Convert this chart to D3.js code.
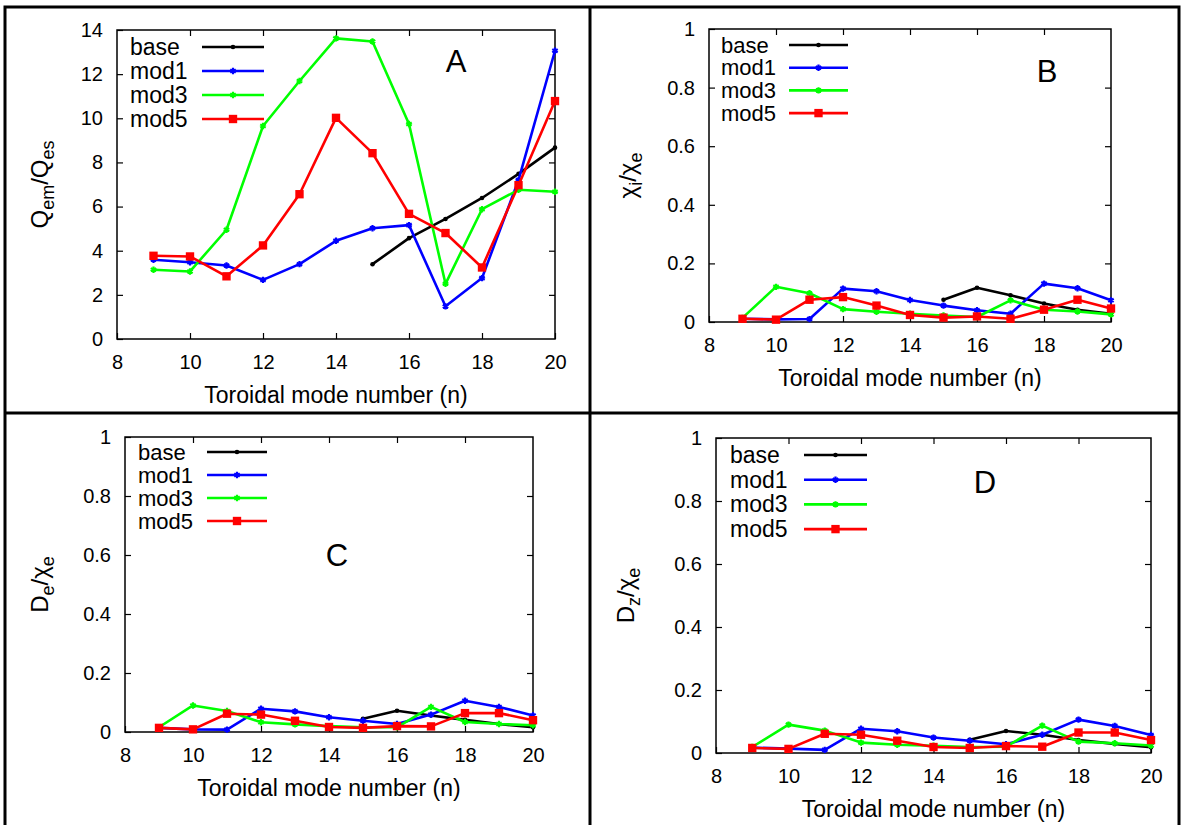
<!DOCTYPE html>
<html>
<head>
<meta charset="utf-8">
<script src="https://cdn.jsdelivr.net/npm/d3@7"></script>
<style>
body { margin: 0; background: white; }
text { font-family: "Liberation Sans", Arial, sans-serif; fill: black; }
</style>
</head>
<body>
<svg width="1182" height="825"></svg>
<script>
// toroidal mode numbers
const nAll = [9, 10, 11, 12, 13, 14, 15, 16, 17, 18, 19, 20];
const nBase = [15, 16, 17, 18, 19, 20];
const nTicks = [8, 10, 12, 14, 16, 18, 20];
const qTicks = [0, 2, 4, 6, 8, 10, 12, 14];
const ratioTicks = [0, 0.2, 0.4, 0.6, 0.8, 1];
const seriesNames = ["base", "mod1", "mod3", "mod5"];
const seriesColors = ["#000000", "#0000ff", "#00ff00", "#ff0000"];

// A: Qem/Qes
const qBase = [3.39, 4.57, 5.44, 6.39, 7.48, 8.67];
const qMod1 = [3.59, 3.48, 3.33, 2.68, 3.39, 4.45, 5.02, 5.16, 1.48, 2.76, 7.2, 13.06];
const qMod3 = [3.14, 3.06, 4.95, 9.65, 11.69, 13.62, 13.48, 9.74, 2.5, 5.88, 6.76, 6.67];
const qMod5 = [3.77, 3.74, 2.84, 4.24, 6.56, 10.02, 8.42, 5.67, 4.8, 3.24, 6.97, 10.78];

// B: chi_i/chi_e
const chiBase = [0.076, 0.117, 0.091, 0.063, 0.042, 0.028];
const chiMod1 = [0.011, 0.009, 0.010, 0.114, 0.105, 0.075, 0.056, 0.040, 0.028, 0.131, 0.115, 0.074];
const chiMod3 = [0.014, 0.120, 0.098, 0.044, 0.035, 0.028, 0.022, 0.017, 0.074, 0.042, 0.036, 0.026];
const chiMod5 = [0.011, 0.008, 0.076, 0.085, 0.056, 0.024, 0.015, 0.019, 0.011, 0.042, 0.076, 0.046];

// C: De/chi_e
const deBase = [0.045, 0.072, 0.056, 0.041, 0.027, 0.016];
const deMod1 = [0.014, 0.009, 0.008, 0.079, 0.070, 0.050, 0.038, 0.027, 0.059, 0.106, 0.085, 0.056];
const deMod3 = [0.016, 0.090, 0.071, 0.033, 0.026, 0.020, 0.016, 0.016, 0.085, 0.034, 0.027, 0.023];
const deMod5 = [0.014, 0.009, 0.062, 0.059, 0.038, 0.017, 0.014, 0.020, 0.019, 0.064, 0.064, 0.040];

// D: Dz/chi_e
const dzBase = [0.042, 0.070, 0.058, 0.041, 0.029, 0.018];
const dzMod1 = [0.017, 0.014, 0.010, 0.077, 0.069, 0.049, 0.039, 0.028, 0.058, 0.106, 0.086, 0.057];
const dzMod3 = [0.019, 0.090, 0.071, 0.033, 0.026, 0.023, 0.019, 0.020, 0.087, 0.036, 0.031, 0.024];
const dzMod5 = [0.016, 0.013, 0.061, 0.058, 0.039, 0.019, 0.016, 0.022, 0.020, 0.065, 0.065, 0.041];

const svg = d3.select("svg");

// panel frames
svg.append("rect").attr("x", 5).attr("y", 7).attr("width", 1174).attr("height", 830)
  .attr("fill", "none").attr("stroke", "black").attr("stroke-width", 3);
svg.append("line").attr("x1", 590).attr("x2", 590).attr("y1", 7).attr("y2", 830)
  .attr("stroke", "black").attr("stroke-width", 3);
svg.append("line").attr("x1", 5).attr("x2", 1179).attr("y1", 413).attr("y2", 413)
  .attr("stroke", "black").attr("stroke-width", 3);

const panels = [
  { series: [qBase, qMod1, qMod3, qMod5], ticks: qTicks, fmt: d3.format("d"),
    left: 117, right: 555, top: 30, bottom: 339, ylab: ["Q", "em", "/Q", "es"], ylabX: -77,
    letter: "A", letterX: 456, letterY: 72,
    leg: { x: 13, y: 17, dy: 24, l0: 85, l1: 147, fs: 23 } },
  { series: [chiBase, chiMod1, chiMod3, chiMod5], ticks: ratioTicks, fmt: d3.format("~g"),
    left: 709, right: 1111, top: 29, bottom: 322, ylab: ["\u03c7", "i", "/\u03c7", "e"], ylabX: -81,
    letter: "B", letterX: 1047, letterY: 82,
    leg: { x: 12, y: 16, dy: 22.7, l0: 80, l1: 139, fs: 22 } },
  { series: [deBase, deMod1, deMod3, deMod5], ticks: ratioTicks, fmt: d3.format("~g"),
    left: 125, right: 533, top: 437, bottom: 732, ylab: ["D", "e", "/\u03c7", "e"], ylabX: -85,
    letter: "C", letterX: 337, letterY: 566,
    leg: { x: 13, y: 15, dy: 23, l0: 82, l1: 142, fs: 22 } },
  { series: [dzBase, dzMod1, dzMod3, dzMod5], ticks: ratioTicks, fmt: d3.format("~g"),
    left: 716, right: 1151, top: 438, bottom: 753, ylab: ["D", "z", "/\u03c7", "e"], ylabX: -90,
    letter: "D", letterX: 985, letterY: 493,
    leg: { x: 14, y: 17, dy: 24.7, l0: 88, l1: 151, fs: 23 } }
];

function marker(g, k, color) {
  if (k == 0) {
    return g.append("circle").attr("r", 2.3).attr("fill", color);
  } else if (k == 3) {
    return g.append("path").attr("d", d3.symbol(d3.symbolSquare, 70)()).attr("fill", color);
  }
  return g.append("path").attr("d", d3.symbol(d3.symbolAsterisk, 28)())
    .attr("fill", "none").attr("stroke", color).attr("stroke-width", 2.2);
}

panels.forEach(function(p) {
  const w = p.right - p.left, h = p.bottom - p.top;
  const xs = d3.scaleLinear().domain([8, 20]).range([0, w]);
  const ys = d3.scaleLinear().domain([0, d3.max(p.ticks)]).range([h, 0]);
  const g = svg.append("g").attr("transform", "translate(" + p.left + "," + p.top + ")");

  // axes with inward ticks, mirrored on top and right
  g.append("g").attr("transform", "translate(0," + h + ")")
    .call(d3.axisBottom(xs).tickValues(nTicks).tickSizeInner(-6).tickSizeOuter(0).tickPadding(16))
    .call(a => a.select(".domain").remove());
  g.append("g")
    .call(d3.axisTop(xs).tickValues(nTicks.slice(1, -1)).tickSizeInner(-6).tickSizeOuter(0).tickFormat(""))
    .call(a => a.select(".domain").remove());
  g.append("g")
    .call(d3.axisLeft(ys).tickValues(p.ticks).tickFormat(p.fmt).tickSizeInner(-6).tickSizeOuter(0).tickPadding(14))
    .call(a => a.select(".domain").remove());
  g.append("g").attr("transform", "translate(" + w + ",0)")
    .call(d3.axisRight(ys).tickValues(p.ticks.slice(1, -1)).tickSizeInner(-6).tickSizeOuter(0).tickFormat(""))
    .call(a => a.select(".domain").remove());
  g.selectAll(".tick text").attr("font-size", 20).attr("font-family", "Liberation Sans, Arial, sans-serif");
  g.selectAll(".tick line").attr("stroke-width", 1.2);
  g.append("rect").attr("width", w).attr("height", h)
    .attr("fill", "none").attr("stroke", "black").attr("stroke-width", 1.5);

  // axis titles
  g.append("text")
    .attr("x", w / 2).attr("y", h + 64)
    .attr("text-anchor", "middle").attr("font-size", 23)
    .text("Toroidal mode number (n)");
  const yl = g.append("text")
    .attr("transform", "translate(" + p.ylabX + "," + (h / 2) + ")rotate(-90)")
    .attr("text-anchor", "middle").attr("font-size", 24).attr("dy", "0.35em");
  yl.append("tspan").text(p.ylab[0]);
  yl.append("tspan").attr("font-size", 18).attr("dy", 6).text(p.ylab[1]);
  yl.append("tspan").attr("dy", -6).text(p.ylab[2]);
  yl.append("tspan").attr("font-size", 18).attr("dy", 6).text(p.ylab[3]);

  // panel letter
  svg.append("text")
    .attr("x", p.letterX).attr("y", p.letterY)
    .attr("text-anchor", "middle")
    .attr("font-family", "Liberation Serif, Times New Roman, serif")
    .attr("font-size", 31)
    .text(p.letter);

  // series
  const line = d3.line().x(d => xs(d[0])).y(d => ys(d[1]));
  p.series.forEach(function(vals, k) {
    const ns = k == 0 ? nBase : nAll;
    const pts = vals.map((v, i) => [ns[i], v]);
    g.append("path").datum(pts)
      .attr("d", line)
      .attr("fill", "none")
      .attr("stroke", seriesColors[k])
      .attr("stroke-width", 2.6)
      .attr("stroke-linejoin", "round");
    pts.forEach(function(d) {
      marker(g, k, seriesColors[k]).attr("transform", "translate(" + xs(d[0]) + "," + ys(d[1]) + ")");
    });
  });

  // legend
  seriesNames.forEach(function(name, k) {
    const yy = p.leg.y + k * p.leg.dy;
    g.append("text").attr("x", p.leg.x).attr("y", yy).attr("dy", "0.35em")
      .attr("font-size", p.leg.fs).text(name);
    g.append("line").attr("x1", p.leg.l0).attr("x2", p.leg.l1).attr("y1", yy).attr("y2", yy)
      .attr("stroke", seriesColors[k]).attr("stroke-width", 2.6);
    marker(g, k, seriesColors[k]).attr("transform", "translate(" + ((p.leg.l0 + p.leg.l1) / 2) + "," + yy + ")");
  });
});
</script>
</body>
</html>
